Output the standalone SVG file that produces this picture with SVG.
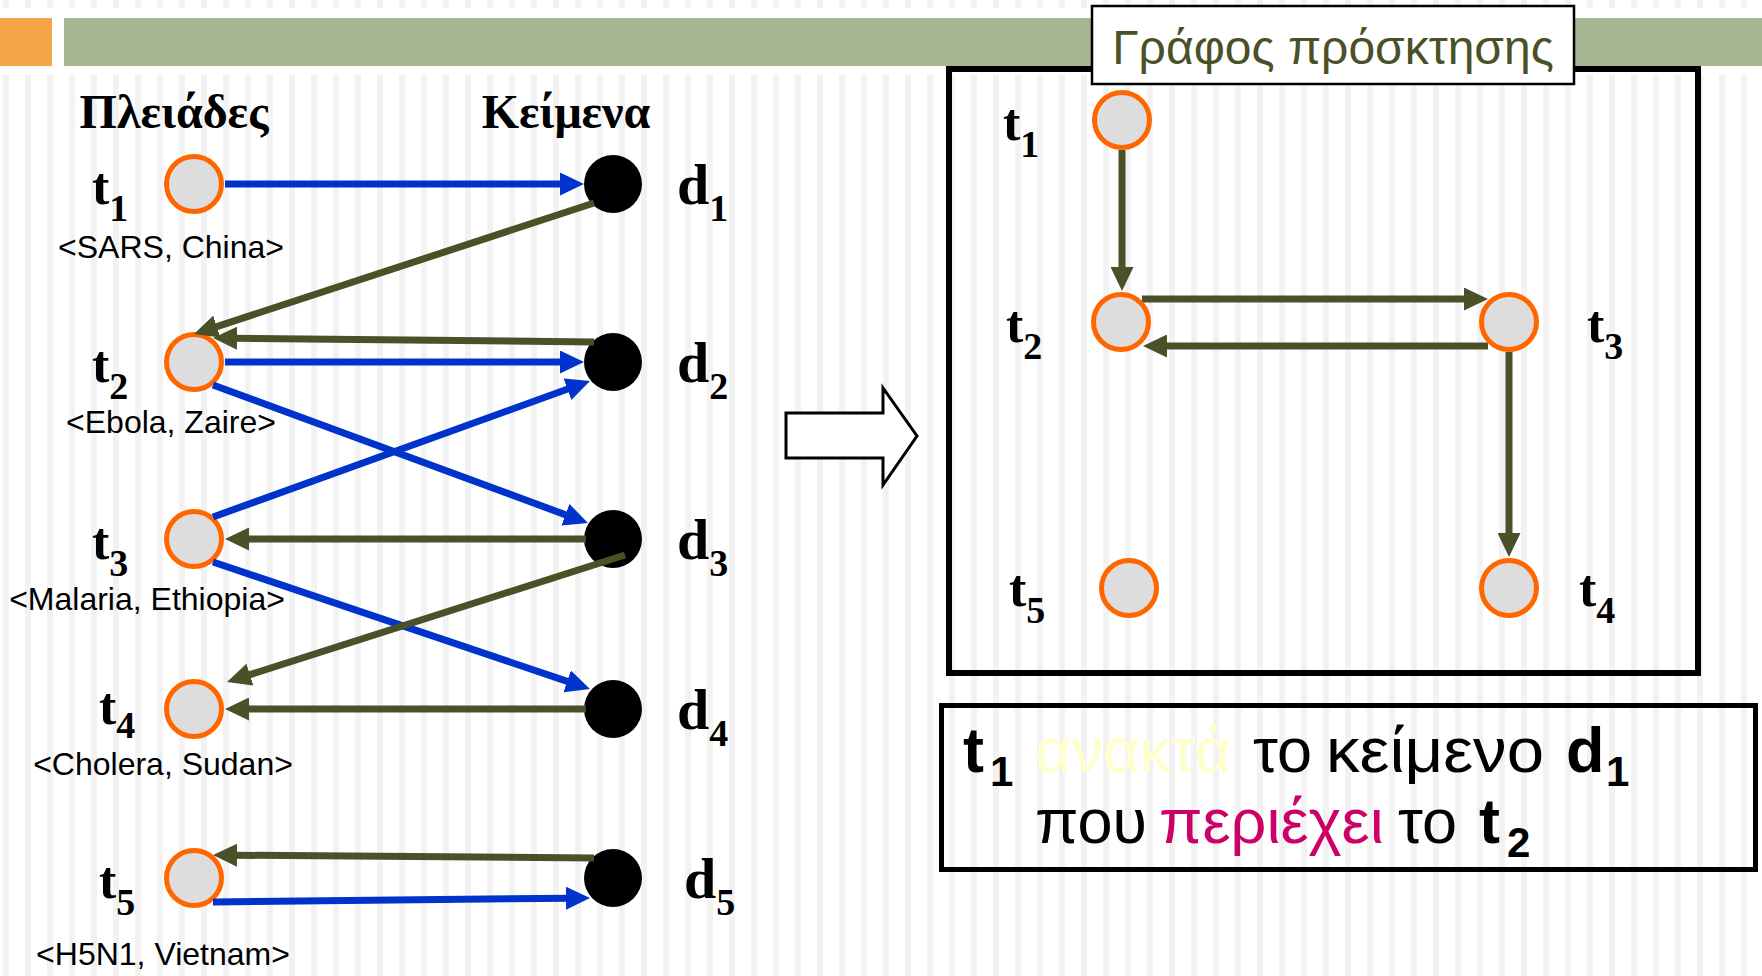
<svg xmlns="http://www.w3.org/2000/svg" width="1762" height="976" viewBox="0 0 1762 976">
  <defs>
    <pattern id="stripes" x="0" y="0" width="22" height="976" patternUnits="userSpaceOnUse">
      <rect x="3" y="0" width="6" height="976" fill="#f2f2f2"/>
    </pattern>
    <marker id="ah-blue" markerUnits="userSpaceOnUse" markerWidth="24" markerHeight="23" refX="4" refY="11.5" orient="auto">
      <path d="M0,0 L24,11.5 L0,23 z" fill="#0033cc"/>
    </marker>
    <marker id="ah-olive" markerUnits="userSpaceOnUse" markerWidth="24" markerHeight="23" refX="4" refY="11.5" orient="auto">
      <path d="M0,0 L24,11.5 L0,23 z" fill="#4a5128"/>
    </marker>
  </defs>
  <style>
    .term { fill: #dddddd; stroke: #ff6600; stroke-width: 5; }
    .doc { fill: #000000; }
    .blue { stroke: #0033cc; stroke-width: 7; fill: none; marker-end: url(#ah-blue); }
    .olive { stroke: #4a5128; stroke-width: 7; fill: none; marker-end: url(#ah-olive); }
    .lbl { font-family: "Liberation Serif", "Times New Roman", serif; font-weight: bold; fill: #000; }
    .tl { font-size: 52px; }
    .dl { font-size: 58px; }
    .sub { font-size: 38px; }
    .head { font-family: "Liberation Serif", "Times New Roman", serif; font-weight: bold; font-size: 48px; text-anchor: middle; }
    .pair { font-family: "Liberation Sans", Arial, sans-serif; font-size: 32px; text-anchor: middle; fill: #000; }
    .say { font-family: "Liberation Sans", Arial, sans-serif; font-size: 63px; fill: #000; }
    .say .b { font-weight: bold; }
    .say .s { font-weight: bold; font-size: 42px; }
  </style>

  <!-- background -->
  <rect x="0" y="0" width="1762" height="976" fill="#ffffff"/>
  <rect x="0" y="0" width="1762" height="8" fill="url(#stripes)"/>
  <rect x="0" y="75" width="1762" height="901" fill="url(#stripes)"/>
  <rect x="0" y="18" width="52" height="48" fill="#f4a646"/>
  <rect x="64" y="18" width="1698" height="48" fill="#a6b592"/>

  <!-- column headings -->
  <text class="head" x="174" y="128" font-size="50">Πλειάδες</text>
  <text class="head" x="566" y="128">Κείμενα</text>

  <!-- left: query terms -->
  <g id="term-t1">
    <circle class="term" cx="194" cy="184" r="27.5"/>
    <text class="lbl tl" x="92" y="204">t<tspan class="sub" dy="17">1</tspan></text>
    <text class="pair" x="171" y="258">&lt;SARS, China&gt;</text>
  </g>
  <g id="term-t2">
    <circle class="term" cx="194" cy="362" r="27.5"/>
    <text class="lbl tl" x="92" y="382">t<tspan class="sub" dy="17">2</tspan></text>
    <text class="pair" x="171" y="433">&lt;Ebola, Zaire&gt;</text>
  </g>
  <g id="term-t3">
    <circle class="term" cx="194" cy="539" r="27.5"/>
    <text class="lbl tl" x="92" y="559">t<tspan class="sub" dy="17">3</tspan></text>
    <text class="pair" x="147" y="610">&lt;Malaria, Ethiopia&gt;</text>
  </g>
  <g id="term-t4">
    <circle class="term" cx="194" cy="709" r="27.5"/>
    <text class="lbl tl" x="99" y="724">t<tspan class="sub" dy="14">4</tspan></text>
    <text class="pair" x="163" y="775">&lt;Cholera, Sudan&gt;</text>
  </g>
  <g id="term-t5">
    <circle class="term" cx="194" cy="878" r="27.5"/>
    <text class="lbl tl" x="99" y="898">t<tspan class="sub" dy="17">5</tspan></text>
    <text class="pair" x="163" y="965">&lt;H5N1, Vietnam&gt;</text>
  </g>

  <!-- left: documents -->
  <g id="doc-d1">
    <circle class="doc" cx="613" cy="184" r="29"/>
    <text class="lbl dl" x="677" y="204">d<tspan class="sub" dy="17">1</tspan></text>
  </g>
  <g id="doc-d2">
    <circle class="doc" cx="613" cy="362" r="29"/>
    <text class="lbl dl" x="677" y="382">d<tspan class="sub" dy="17">2</tspan></text>
  </g>
  <g id="doc-d3">
    <circle class="doc" cx="613" cy="539" r="29"/>
    <text class="lbl dl" x="677" y="559">d<tspan class="sub" dy="17">3</tspan></text>
  </g>
  <g id="doc-d4">
    <circle class="doc" cx="613" cy="709" r="29"/>
    <text class="lbl dl" x="677" y="729">d<tspan class="sub" dy="17">4</tspan></text>
  </g>
  <g id="doc-d5">
    <circle class="doc" cx="613" cy="878" r="29"/>
    <text class="lbl dl" x="684" y="898">d<tspan class="sub" dy="17">5</tspan></text>
  </g>

  <!-- left: term–document connectors, drawn over the nodes -->
  <g id="connectors-left">
    <line class="blue" x1="225" y1="184" x2="564" y2="184"/>
    <line class="olive" x1="594" y1="203" x2="213" y2="327.8"/>
    <line class="olive" x1="594" y1="342" x2="233" y2="338.2"/>
    <line class="blue" x1="225" y1="362" x2="564" y2="362"/>
    <line class="blue" x1="213" y1="385" x2="569.2" y2="516.1"/>
    <line class="blue" x1="213" y1="517" x2="571.2" y2="387.8"/>
    <line class="olive" x1="586" y1="539" x2="245" y2="539"/>
    <line class="blue" x1="213" y1="562" x2="571" y2="682.6"/>
    <line class="olive" x1="625" y1="555" x2="246.1" y2="675.9"/>
    <line class="olive" x1="586" y1="709" x2="245" y2="709"/>
    <line class="olive" x1="594" y1="858" x2="233" y2="855.2"/>
    <line class="blue" x1="213" y1="902" x2="570" y2="898.2"/>
  </g>

  <!-- transformation arrow -->
  <polygon id="transform-arrow" points="786,413 883,413 883,388 917,436 883,485 883,458 786,458" fill="#ffffff" stroke="#000000" stroke-width="3" stroke-linejoin="miter"/>

  <!-- right: acquisition graph frame -->
  <rect x="949" y="69" width="749" height="604" fill="none" stroke="#000000" stroke-width="6"/>
  <g id="graph-title">
    <rect x="1092" y="6" width="482" height="78" fill="#ffffff" stroke="#000000" stroke-width="2.5"/>
    <text x="1333" y="64" font-family="'Liberation Sans', Arial, sans-serif" font-size="48" text-anchor="middle" fill="#4a5128">Γράφος πρόσκτησης</text>
  </g>

  <g id="connectors-right">
    <line class="olive" x1="1122" y1="150" x2="1122" y2="271"/>
    <line class="olive" x1="1142" y1="299" x2="1468" y2="299"/>
    <line class="olive" x1="1488" y1="346" x2="1163" y2="346"/>
    <line class="olive" x1="1509" y1="352" x2="1509" y2="537"/>
  </g>

  <g id="graph-t1">
    <circle class="term" cx="1122" cy="120" r="27.5"/>
    <text class="lbl tl" x="1003" y="140">t<tspan class="sub" dy="17">1</tspan></text>
  </g>
  <g id="graph-t2">
    <circle class="term" cx="1121" cy="322" r="27.5"/>
    <text class="lbl tl" x="1006" y="342">t<tspan class="sub" dy="17">2</tspan></text>
  </g>
  <g id="graph-t3">
    <circle class="term" cx="1509" cy="322" r="27.5"/>
    <text class="lbl tl" x="1587" y="342">t<tspan class="sub" dy="17">3</tspan></text>
  </g>
  <g id="graph-t4">
    <circle class="term" cx="1509" cy="588" r="27.5"/>
    <text class="lbl tl" x="1579" y="606">t<tspan class="sub" dy="17">4</tspan></text>
  </g>
  <g id="graph-t5">
    <circle class="term" cx="1129" cy="588" r="27.5"/>
    <text class="lbl tl" x="1009" y="606">t<tspan class="sub" dy="17">5</tspan></text>
  </g>

  <!-- caption box -->
  <g id="caption">
    <rect x="941.5" y="705.5" width="814" height="164" fill="none" stroke="#000000" stroke-width="5"/>
    <text class="say" y="772">
      <tspan class="b" x="963">t</tspan><tspan class="s" x="990" dy="14">1</tspan>
      <tspan x="1035" dy="-14" fill="#ffffcc">ανακτά</tspan>
      <tspan x="1253">το</tspan>
      <tspan x="1326" textLength="218" lengthAdjust="spacingAndGlyphs">κείμενο</tspan>
      <tspan class="b" x="1566">d</tspan><tspan class="s" x="1606" dy="14">1</tspan>
    </text>
    <text class="say" y="843">
      <tspan x="1035">που</tspan>
      <tspan x="1159" fill="#cc0066">περιέχει</tspan>
      <tspan x="1398">το</tspan>
      <tspan class="b" x="1479">t</tspan><tspan class="s" x="1507" dy="14">2</tspan>
    </text>
  </g>
</svg>
